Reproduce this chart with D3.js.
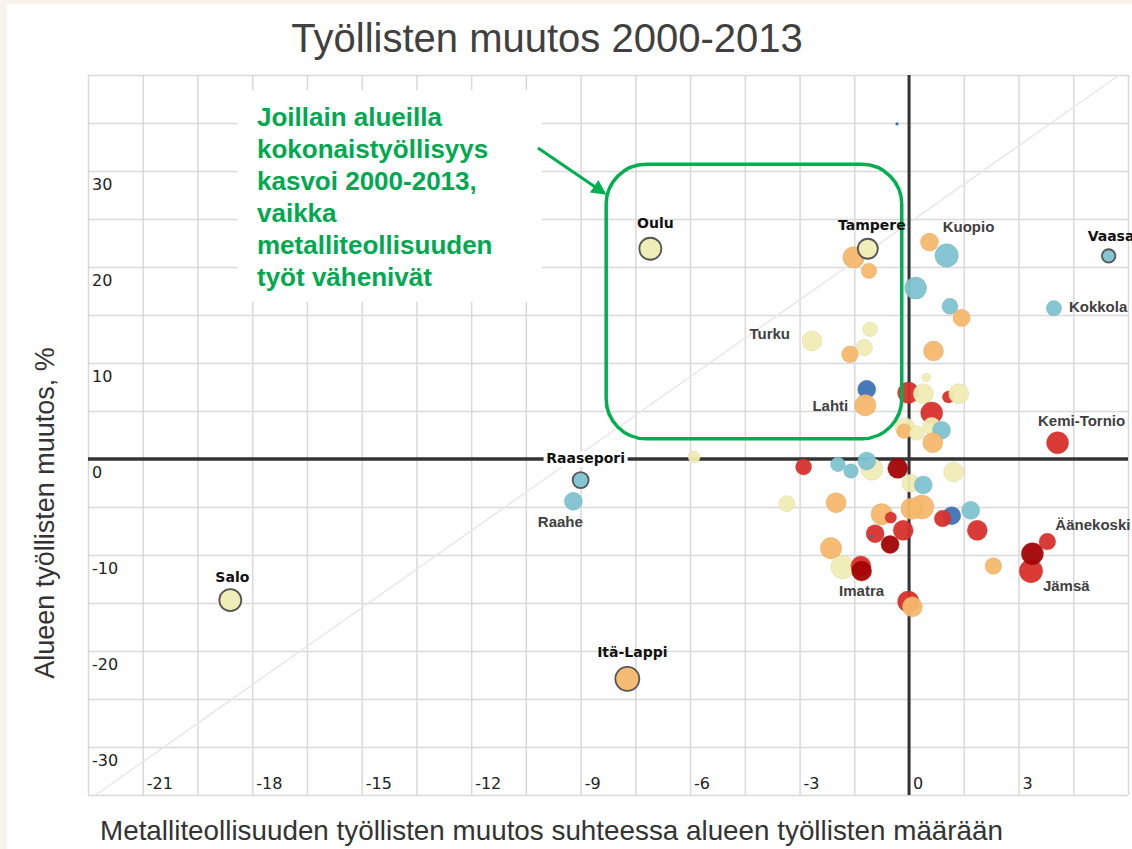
<!DOCTYPE html>
<html>
<head>
<meta charset="utf-8">
<script src="https://cdn.jsdelivr.net/npm/d3@7"></script>
<style>
  body { margin: 0; background: #f8f4ec; }
  svg { display: block; }
</style>
</head>
<body>
<svg id="chart" width="1132" height="849"></svg>
<script>
// ---> Data
const nimet = ["Oulu", "", "Tampere", "", "", "Kuopio", "", "", "", "Turku",
  "", "", "", "", "", "Lahti", "", "", "", "",
  "", "", "", "", "", "", "", "", "Kemi-Tornio", "Vaasa",
  "Kokkola", "", "", "", "", "", "", "", "", "",
  "", "", "", "", "", "", "", "", "", "",
  "", "", "", "", "", "", "Imatra", "", "", "",
  "Äänekoski", "Jämsä", "", "Raasepori", "Raahe", "Salo", "Itä-Lappi", "", "", ""];
// metalliteollisuuden työllisten muutos suhteessa alueen työllisiin
const xArvot = [-7.09, -1.52, -1.13, -1.10, 0.56, 1.03, 0.18, 1.12, 1.44, -2.66,
  -1.07, -1.23, -1.62, 0.67, -1.16, -1.20, -0.02, 0.39, 0.47, 1.08,
  1.36, 0.62, -0.11, -0.14, 0.21, 0.62, 0.89, 0.65, 4.07, 5.47,
  3.97, -2.89, -1.95, -1.59, -1.02, -1.16, -0.31, 1.22, 0.05, 0.39,
  -3.35, -2.00, -0.75, -0.50, 0.35, 0.07, 1.17, 0.92, 1.69, 1.87,
  -0.93, -0.16, -0.52, -2.14, -1.82, -1.32, -1.30, -0.02, 0.09, 2.31,
  3.79, 3.34, 3.38, -9.00, -9.20, -18.60, -7.72, -5.89, -0.33, -1.04];
// alueen työllisten muutos, %
const yArvot = [21.9, 21.0, 21.9, 19.6, 22.6, 21.2, 17.8, 15.9, 14.7, 12.3,
  13.5, 11.6, 10.9, 11.25, 7.26, 5.6, 6.9, 6.8, 8.5, 6.46,
  6.8, 4.8, 3.26, 2.9, 2.7, 3.4, 3.0, 1.7, 1.7, 21.15,
  15.7, -0.83, -0.56, -1.25, -1.07, -0.2, -0.97, -1.35, -2.53, -2.7,
  -4.65, -4.55, -5.76, -6.1, -5.0, -5.17, -5.9, -6.2, -5.35, -7.43,
  -7.78, -7.43, -8.9, -9.3, -11.25, -11.15, -11.67, -14.86, -15.4, -11.15,
  -8.6, -11.67, -9.86, -2.2, -4.4, -14.7, -22.9, 0.2, 34.9, -8.1];
// pallon koko (alueen työlliset, suhteellinen)
const koko = [121, 114, 100, 59, 81, 137, 121, 64, 75, 100,
  53, 69, 69, 100, 81, 114, 114, 100, 19, 36,
  100, 121, 100, 53, 53, 81, 81, 100, 121, 45,
  59, 64, 53, 53, 121, 81, 100, 100, 81, 81,
  64, 100, 114, 32, 144, 114, 81, 69, 81, 100,
  81, 100, 81, 114, 137, 100, 100, 114, 100, 69,
  69, 137, 121, 64, 81, 121, 144, 36, 2, 2];
const luokka = ["vk", "or", "vk", "or", "or", "vs", "vs", "vs", "or", "vk",
  "vk", "vk", "or", "or", "si", "or", "pu", "vk", "vk", "pu",
  "vk", "pu", "vk", "or", "vk", "vk", "vs", "or", "pu", "vs",
  "vs", "pu", "vs", "vs", "vk", "vs", "tp", "vk", "vk", "vs",
  "vk", "or", "or", "pu", "or", "or", "si", "pu", "vs", "pu",
  "pu", "pu", "tp", "or", "vk", "pu", "tp", "pu", "or", "or",
  "pu", "pu", "tp", "vs", "vs", "vk", "or", "vk", "si", "si"];
const luokat = ["vk", "or", "vs", "si", "pu", "tp"];
const varit = ["#f0ecb4", "#f5b86c", "#80c2d0", "#3f72b5", "#d9302b", "#a30404"];
const korostetut = ["Oulu", "Tampere", "Vaasa", "Raasepori", "Salo", "Itä-Lappi"];

const xTikit = [-21, -18, -15, -12, -9, -6, -3, 0, 3];
const yTikit = [30, 20, 10, 0, -10, -20, -30];

const otsikko = "Työllisten muutos 2000-2013";
const xNimi = "Metalliteollisuuden työllisten muutos suhteessa alueen työllisten määrään";
const yNimi = "Alueen työllisten muutos, %";
const huomio = ["Joillain alueilla", "kokonaistyöllisyys", "kasvoi 2000-2013,", "vaikka",
  "metalliteollisuuden", "työt vähenivät"];

// ---> Layout
const plotLeft = 88, plotRight = 1128, plotTop = 75, plotBottom = 795;
const svg = d3.select("#chart");

const x = d3.scaleLinear().domain([-22.5, 6]).range([plotLeft, plotRight]);
const y = d3.scaleLinear().domain([-35, 40]).range([plotBottom, plotTop]);
const r = d3.scaleSqrt().domain([0, 100]).range([0, 10]);
const colour = d3.scaleOrdinal().domain(luokat).range(varit);

// label placement relative to the bubble centre
const nimiPaikka = {
  "Oulu": [5, -21, "middle"], "Tampere": [4, -19, "middle"], "Kuopio": [-4, -23, "start"],
  "Vaasa": [-21, -15, "start"], "Kokkola": [15, 4, "start"], "Turku": [-22, -2, "end"],
  "Lahti": [-17, 6, "end"], "Kemi-Tornio": [24, -17, "middle"], "Raasepori": [5, -17, "middle"],
  "Raahe": [-13, 26, "middle"], "Salo": [2, -18, "middle"], "Itä-Lappi": [5, -22, "middle"],
  "Imatra": [0, 25, "middle"], "Äänekoski": [8, -12, "start"], "Jämsä": [12, 20, "start"]
};

// white page
svg.append("rect").attr("x", 7).attr("y", 4).attr("width", 1132).attr("height", 849).attr("fill", "#fff");

// title
svg.append("text").attr("x", 547).attr("y", 52).attr("text-anchor", "middle")
  .style("font-family", "'Liberation Sans', Arial, sans-serif").style("font-size", "40px")
  .attr("fill", "#404040").text(otsikko);

// grid via axes
svg.append("g").attr("transform", `translate(0,${plotBottom})`)
  .call(d3.axisBottom(x).tickValues(d3.range(-22.5, 6.01, 1.5)).tickSize(-(plotBottom - plotTop)).tickFormat(""));
svg.append("g").attr("transform", `translate(${plotLeft},0)`)
  .call(d3.axisLeft(y).tickValues(d3.range(-35, 40.01, 5)).tickSize(-(plotRight - plotLeft)).tickFormat(""));
svg.selectAll(".domain").remove();
svg.selectAll(".tick line").attr("stroke", "#d9d9d9").attr("stroke-width", 1.5);

// diagonal reference line
svg.append("line")
  .attr("x1", x(-22.29)).attr("y1", y(-35)).attr("x2", x(5.76)).attr("y2", y(40))
  .attr("stroke", "#e8e8e8").attr("stroke-width", 1.5);

// annotation background
svg.append("rect").attr("x", 238).attr("y", 90).attr("width", 304).attr("height", 212).attr("fill", "#fff");

// zero axes
svg.append("line").attr("x1", plotLeft).attr("x2", plotRight).attr("y1", y(0)).attr("y2", y(0))
  .attr("stroke", "#333").attr("stroke-width", 3.5);
svg.append("line").attr("x1", x(0)).attr("x2", x(0)).attr("y1", plotTop).attr("y2", plotBottom)
  .attr("stroke", "#333").attr("stroke-width", 3);

// tick labels
const tickFont = "'DejaVu Sans', Verdana, sans-serif";
svg.append("g").selectAll("text").data(xTikit).join("text")
  .attr("x", d => x(d) + 4).attr("y", plotBottom - 6)
  .style("font-family", tickFont).style("font-size", "16px").attr("fill", "#222")
  .text(d => d);
svg.append("g").selectAll("text").data(yTikit).join("text")
  .attr("x", plotLeft + 4).attr("y", d => y(d) + 19)
  .style("font-family", tickFont).style("font-size", "16px").attr("fill", "#222")
  .text(d => d);

// bubbles
const pisteet = d3.range(xArvot.length).map(i => ({
  nimi: nimet[i], x: xArvot[i], y: yArvot[i], koko: koko[i], luokka: luokka[i]
}));
svg.append("g").selectAll("circle").data(pisteet).join("circle")
  .attr("cx", d => x(d.x)).attr("cy", d => y(d.y)).attr("r", d => r(d.koko))
  .attr("fill", d => colour(d.luokka)).attr("fill-opacity", 0.95)
  .attr("stroke", d => korostetut.includes(d.nimi) ? "#555" : d3.color(colour(d.luokka)).darker(0.4))
  .attr("stroke-opacity", d => korostetut.includes(d.nimi) ? 1 : 0.35)
  .attr("stroke-width", d => korostetut.includes(d.nimi) ? 1.8 : 1);

// green highlight box + arrow
const green = "#00b050";
svg.append("defs").append("marker").attr("id", "nuoli")
  .attr("viewBox", "0 0 10 10").attr("refX", 8).attr("refY", 5)
  .attr("markerWidth", 5).attr("markerHeight", 5).attr("orient", "auto")
  .append("path").attr("d", "M0,0 L10,5 L0,10 z").attr("fill", green);
svg.append("rect")
  .attr("x", x(-8.3)).attr("y", y(30.7)).attr("width", x(-0.2) - x(-8.3)).attr("height", y(2.1) - y(30.7))
  .attr("rx", 40).attr("fill", "none").attr("stroke", green).attr("stroke-width", 3.5);
svg.append("line").attr("x1", 538).attr("y1", 148).attr("x2", 604).attr("y2", 193)
  .attr("stroke", green).attr("stroke-width", 3).attr("marker-end", "url(#nuoli)");
svg.append("g").selectAll("text").data(huomio).join("text")
  .attr("x", 257).attr("y", (d, i) => 126 + i * 32)
  .style("font-family", "'Liberation Sans', Arial, sans-serif").style("font-size", "26px")
  .style("font-weight", "bold").attr("fill", "#00a94f").text(d => d);

// point labels
const nimetyt = pisteet.filter(d => d.nimi);
const labels = svg.append("g").selectAll("g").data(nimetyt).join("g")
  .attr("transform", d => `translate(${x(d.x) + nimiPaikka[d.nimi][0]},${y(d.y) + nimiPaikka[d.nimi][1]})`);
labels.filter(d => d.nimi === "Raasepori").append("rect")
  .attr("x", -42).attr("y", -12).attr("width", 84).attr("height", 16).attr("fill", "#fff");
labels.append("text")
  .attr("text-anchor", d => nimiPaikka[d.nimi][2])
  .style("font-family", d => korostetut.includes(d.nimi) ? tickFont : "'Liberation Sans', Arial, sans-serif")
  .style("font-size", d => korostetut.includes(d.nimi) ? "14px" : "15px")
  .style("font-weight", "bold")
  .attr("fill", d => korostetut.includes(d.nimi) ? "#111" : "#404040")
  .text(d => d.nimi);

// axis titles
svg.append("text").attr("transform", "translate(54,513) rotate(-90)").attr("text-anchor", "middle")
  .style("font-family", "'Liberation Sans', Arial, sans-serif").style("font-size", "27px")
  .attr("fill", "#333").text(yNimi);
svg.append("text").attr("x", 100).attr("y", 840)
  .attr("textLength", 903).attr("lengthAdjust", "spacingAndGlyphs")
  .style("font-family", "'Liberation Sans', Arial, sans-serif").style("font-size", "28px")
  .attr("fill", "#333").text(xNimi);
</script>
</body>
</html>
